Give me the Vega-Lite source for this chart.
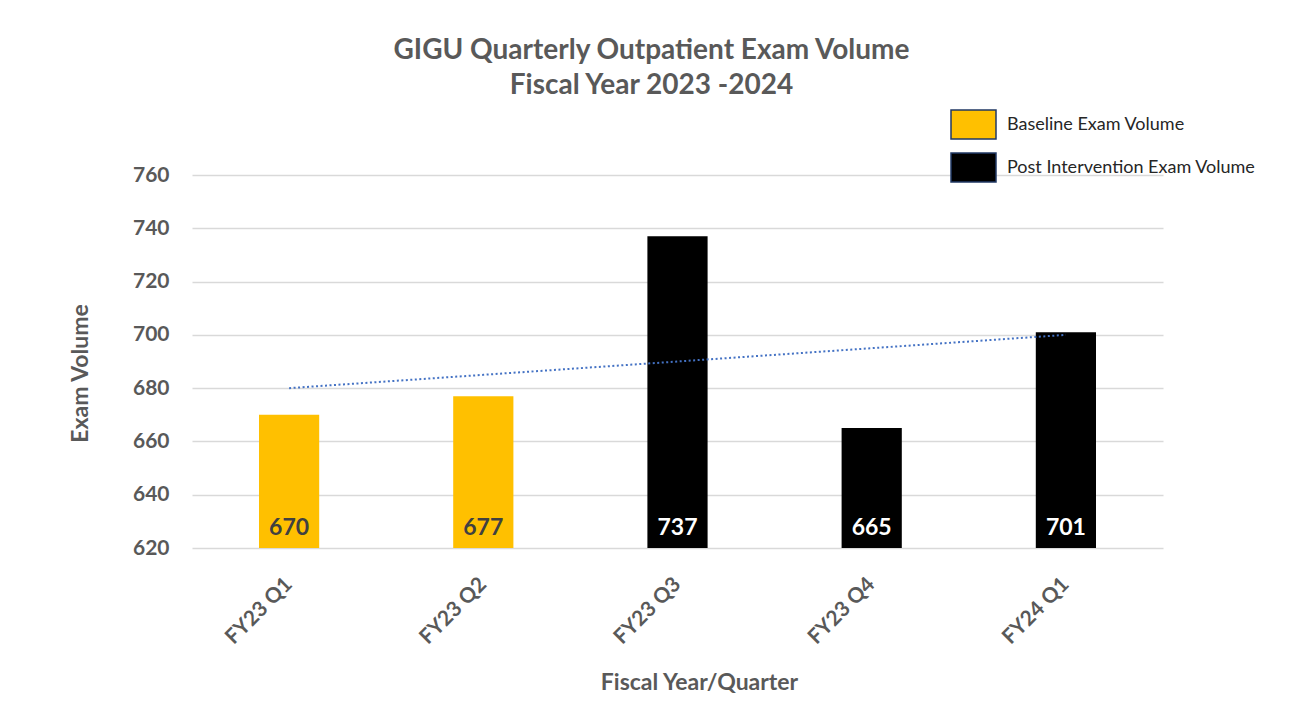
{
  "$schema": "https://vega.github.io/schema/vega-lite/v6.json",
  "width": 971,
  "height": 373,
  "autosize": {"type": "none"},
  "padding": {"left": 192, "top": 175, "right": 134, "bottom": 159},
  "background": "white",
  "config": {"view": {"stroke": null}},
  "title": {
    "text": ["GIGU Quarterly Outpatient Exam Volume", "Fiscal Year 2023 -2024"],
    "font": "Lato",
    "fontSize": 28,
    "fontWeight": "bold",
    "color": "#595959",
    "lineHeight": 35,
    "anchor": "middle",
    "frame": "group",
    "dx": -26,
    "offset": 9
  },
  "data": {
    "values": [
      {"quarter": "FY23 Q1", "volume": 670, "phase": "Baseline Exam Volume", "trend": 680},
      {"quarter": "FY23 Q2", "volume": 677, "phase": "Baseline Exam Volume", "trend": 685},
      {"quarter": "FY23 Q3", "volume": 737, "phase": "Post Intervention Exam Volume", "trend": 690},
      {"quarter": "FY23 Q4", "volume": 665, "phase": "Post Intervention Exam Volume", "trend": 695},
      {"quarter": "FY24 Q1", "volume": 701, "phase": "Post Intervention Exam Volume", "trend": 700}
    ]
  },
  "encoding": {
    "x": {
      "field": "quarter",
      "type": "nominal",
      "sort": null,
      "scale": {"paddingInner": 0.69, "paddingOuter": 0.345},
      "axis": {
        "title": "Fiscal Year/Quarter",
        "labelAngle": -45,
        "labelAlign": "right",
        "labelBaseline": "middle",
        "labelPadding": 33,
        "domain": false,
        "ticks": false,
        "grid": false,
        "labelFont": "Lato",
        "labelFontSize": 21,
        "labelFontWeight": "bold",
        "labelColor": "#595959",
        "titleFont": "Lato",
        "titleFontSize": 23,
        "titleFontWeight": "bold",
        "titleColor": "#595959",
        "titleX": 507,
        "titleY": 141,
        "titleBaseline": "alphabetic",
        "titleAlign": "center"
      }
    }
  },
  "layer": [
    {
      "mark": {"type": "bar"},
      "encoding": {
        "y": {
          "field": "volume",
          "type": "quantitative",
          "scale": {"domain": [620, 760], "zero": false, "nice": false},
          "axis": {
            "title": "Exam Volume",
            "values": [620, 640, 660, 680, 700, 720, 740, 760],
            "grid": true,
            "gridColor": "#d9d9d9",
            "gridWidth": 1.5,
            "domain": false,
            "ticks": false,
            "labelFont": "Lato",
            "labelFontSize": 21,
            "labelFontWeight": "bold",
            "labelColor": "#595959",
            "labelPadding": 23,
            "titleFont": "Lato",
            "titleFontSize": 23,
            "titleFontWeight": "bold",
            "titleColor": "#595959",
            "titleX": -112,
            "titleY": 198,
            "titleAngle": -90,
            "titleBaseline": "middle",
            "titleAlign": "center"
          }
        },
        "y2": {"datum": 620},
        "color": {
          "field": "phase",
          "type": "nominal",
          "scale": {
            "domain": ["Baseline Exam Volume", "Post Intervention Exam Volume"],
            "range": ["#FFC000", "#000000"]
          },
          "legend": {
            "orient": "none",
            "legendX": 758,
            "legendY": -66,
            "title": null,
            "symbolType": "M-1,-0.644H1V0.644H-1Z",
            "symbolSize": 2025,
            "symbolStrokeColor": "#203864",
            "symbolStrokeWidth": 1.5,
            "symbolOpacity": 1,
            "labelFont": "Lato",
            "labelFontSize": 18,
            "labelColor": "#262626",
            "labelOffset": 10,
            "labelLimit": 0,
            "clipHeight": 31,
            "rowPadding": 12,
            "padding": 0
          }
        }
      }
    },
    {
      "mark": {"type": "line", "color": "#4472C4", "strokeWidth": 2, "strokeDash": [2, 2.5]},
      "encoding": {
        "y": {"field": "trend", "type": "quantitative"}
      }
    },
    {
      "mark": {"type": "text", "baseline": "alphabetic", "dy": -13, "font": "Lato", "fontSize": 23, "fontWeight": "bold"},
      "encoding": {
        "y": {"datum": 620, "type": "quantitative"},
        "text": {"field": "volume", "type": "quantitative"},
        "color": {
          "condition": {"test": "datum.phase === 'Baseline Exam Volume'", "value": "#404040"},
          "value": "#ffffff"
        }
      }
    }
  ]
}
